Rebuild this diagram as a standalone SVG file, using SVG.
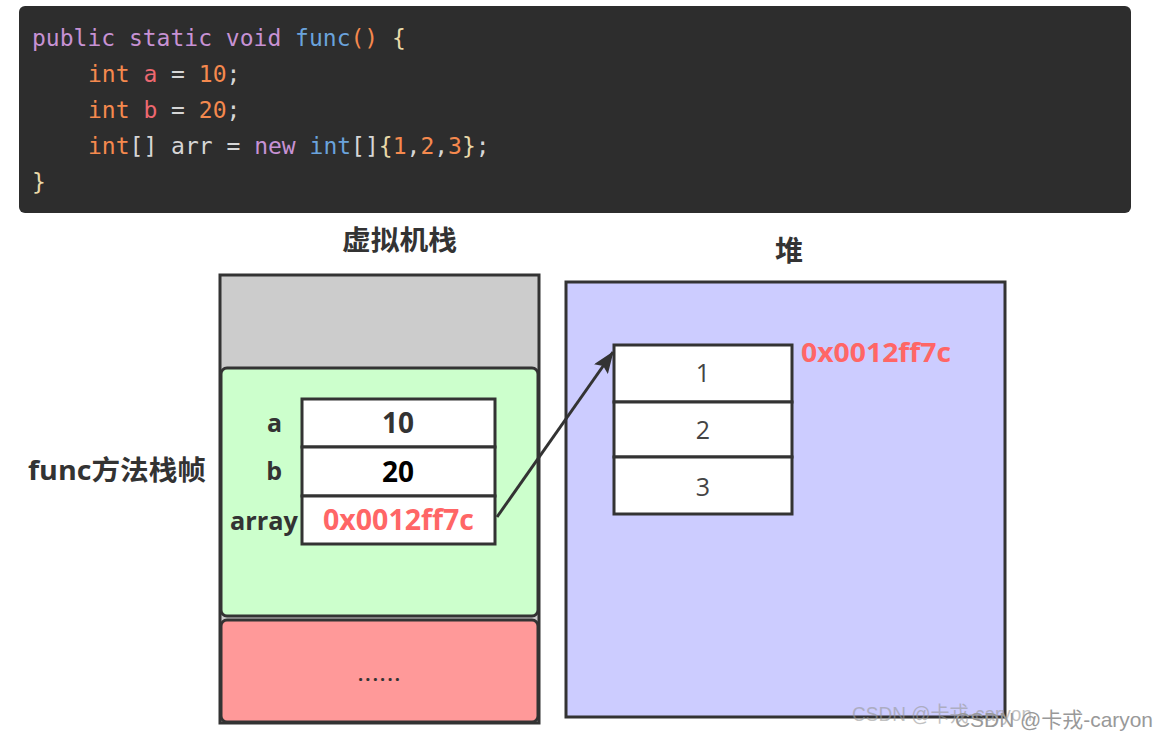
<svg xmlns="http://www.w3.org/2000/svg" width="1157" height="740" viewBox="0 0 1157 740">
<defs>
<style>
.code{font-family:"DejaVu Sans Mono","Liberation Mono",monospace;font-size:23px;white-space:pre}
.kw{fill:#c792d4}.fn{fill:#6aa3dc}.ty{fill:#f5894e}.num{fill:#f5894e}.var{fill:#ee6870}.pn{fill:#d6d6d6}.br{fill:#e9d9a8}
.lbl{font-family:"Open Sans","Noto Sans","Noto Sans CJK SC",sans-serif;font-weight:bold;fill:#333}
.cell{fill:#fff;stroke:#333;stroke-width:3}
.wm{font-family:"Liberation Sans","Noto Sans CJK SC",sans-serif;font-size:21px;fill:#999}
</style>
<marker id="ah" viewBox="0 0 22 17" refX="21" refY="8.5" markerWidth="22" markerHeight="17" markerUnits="userSpaceOnUse" orient="auto">
<path d="M0,0 L22,8.5 L0,17 L4,8.5 z" fill="#333"/>
</marker>
</defs>
<rect width="1157" height="740" fill="#fff"/>
<g id="code">
<rect x="19" y="6" width="1112" height="207" rx="6" fill="#2d2d2d"/>
<text class="code" x="32" y="46"><tspan class="kw">public static void </tspan><tspan class="fn">func</tspan><tspan class="ty">()</tspan><tspan class="br"> {</tspan></text>
<text class="code" x="88" y="82"><tspan class="ty">int </tspan><tspan class="var">a</tspan><tspan class="pn"> = </tspan><tspan class="num">10</tspan><tspan class="pn">;</tspan></text>
<text class="code" x="88" y="118"><tspan class="ty">int </tspan><tspan class="var">b</tspan><tspan class="pn"> = </tspan><tspan class="num">20</tspan><tspan class="pn">;</tspan></text>
<text class="code" x="88" y="154"><tspan class="ty">int</tspan><tspan class="pn">[] arr = </tspan><tspan class="kw">new </tspan><tspan class="fn">int</tspan><tspan class="pn">[]</tspan><tspan class="br">{</tspan><tspan class="num">1</tspan><tspan class="pn">,</tspan><tspan class="num">2</tspan><tspan class="pn">,</tspan><tspan class="num">3</tspan><tspan class="br">}</tspan><tspan class="pn">;</tspan></text>
<text class="code br" x="32" y="190">}</text>
</g>
<g id="stack">
<text class="lbl" x="342" y="250" font-size="27" textLength="115" lengthAdjust="spacingAndGlyphs">虚拟机栈</text>
<rect x="220" y="275" width="319" height="448" fill="#cccccc" stroke="#333" stroke-width="3"/>
<rect x="221" y="368" width="317" height="248" rx="6" fill="#ccffcc" stroke="#333" stroke-width="3"/>
<rect x="221" y="620" width="317" height="102" rx="6" fill="#ff9999" stroke="#333" stroke-width="3"/>
<text x="358" y="681" font-family="Open Sans,sans-serif" font-weight="bold" font-size="18" fill="#333" textLength="42" lengthAdjust="spacing">......</text>
</g>
<g id="frame-label">
<text class="lbl" x="28" y="480" font-size="27" textLength="178" lengthAdjust="spacingAndGlyphs">func方法栈帧</text>
</g>
<g id="vars">
<rect class="cell" x="302" y="399" width="193" height="48"/>
<rect class="cell" x="302" y="447" width="193" height="49"/>
<rect class="cell" x="302" y="496" width="193" height="48"/>
<text class="lbl" x="282" y="432" font-size="25" text-anchor="end">a</text>
<text class="lbl" x="282" y="480" font-size="25" text-anchor="end">b</text>
<text class="lbl" x="230" y="530" font-size="25" textLength="68" lengthAdjust="spacingAndGlyphs">array</text>
<text class="lbl" x="398" y="433" font-size="28" text-anchor="middle">10</text>
<text class="lbl" x="398" y="482" font-size="28" text-anchor="middle" style="fill:#000">20</text>
<text class="lbl" x="323" y="530" font-size="28" textLength="151" lengthAdjust="spacingAndGlyphs" style="fill:#ff6666">0x0012ff7c</text>
</g>
<g id="heap">
<text class="lbl" x="789" y="261" font-size="28" text-anchor="middle">堆</text>
<rect x="566" y="282" width="439" height="435" fill="#ccccff" stroke="#333" stroke-width="3"/>
</g>
<g id="array">
<rect class="cell" x="614" y="345" width="178" height="57"/>
<rect class="cell" x="614" y="402" width="178" height="55"/>
<rect class="cell" x="614" y="457" width="178" height="57"/>
<text x="703" y="382" font-family="Open Sans,sans-serif" font-size="25" fill="#444" text-anchor="middle">1</text>
<text x="703" y="439" font-family="Open Sans,sans-serif" font-size="25" fill="#444" text-anchor="middle">2</text>
<text x="703" y="496" font-family="Open Sans,sans-serif" font-size="25" fill="#444" text-anchor="middle">3</text>
<text class="lbl" x="801" y="362" font-size="27" textLength="150" lengthAdjust="spacingAndGlyphs" style="fill:#ff6666">0x0012ff7c</text>
</g>
<g id="connectors">
<line x1="497" y1="517" x2="613" y2="352" stroke="#333" stroke-width="3" marker-end="url(#ah)"/>
</g>
<g id="watermark">
<text class="wm" x="852" y="721" opacity="0.6" textLength="180" lengthAdjust="spacingAndGlyphs">CSDN @卡戎-caryon</text>
<text class="wm" x="955" y="727" fill="#888" textLength="198" lengthAdjust="spacingAndGlyphs">CSDN @卡戎-caryon</text>
</g>
</svg>
